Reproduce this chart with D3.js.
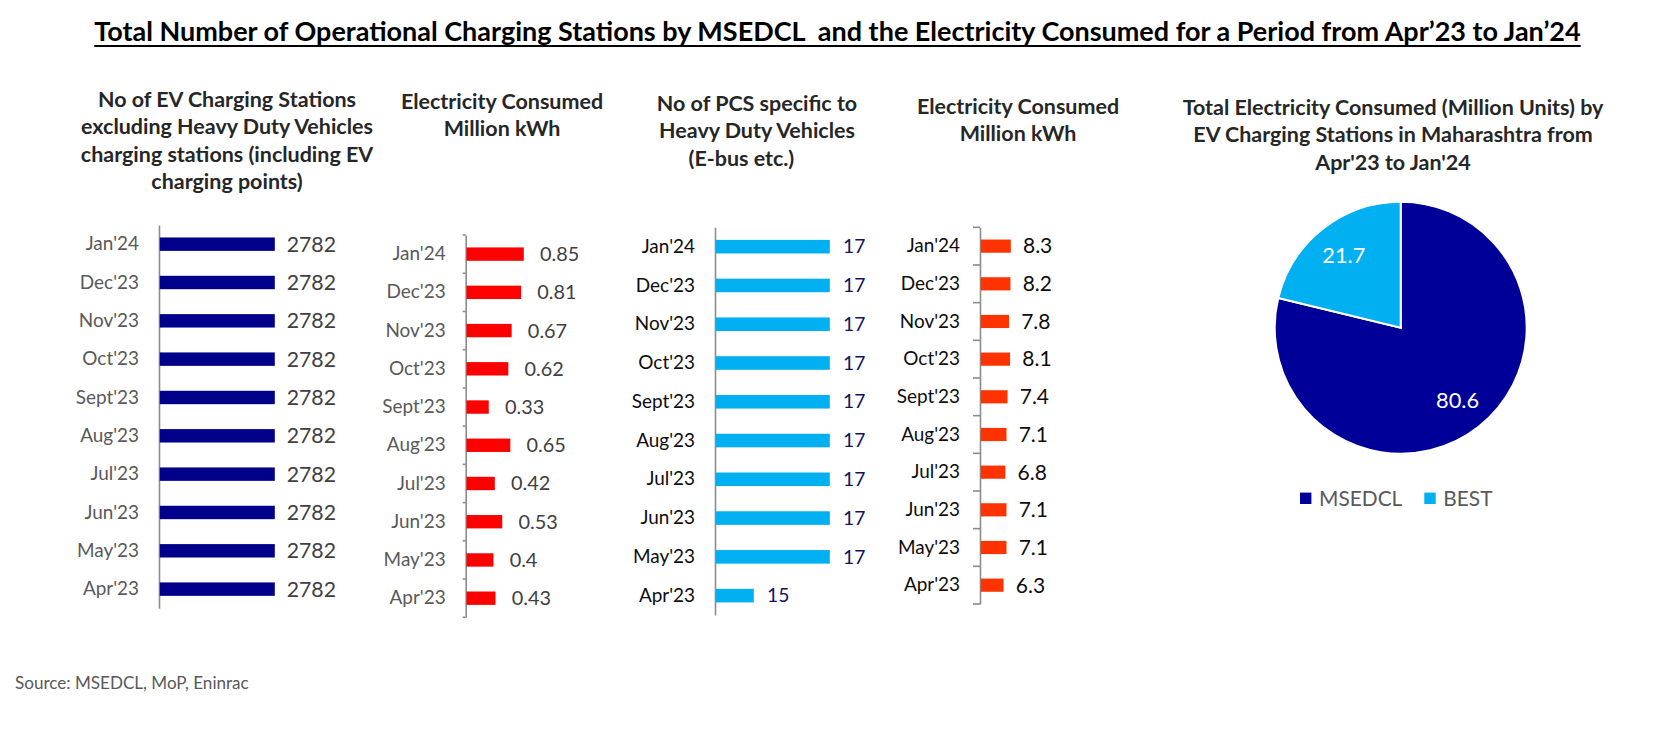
<!DOCTYPE html>
<html>
<head>
<meta charset="utf-8">
<script src="https://cdn.jsdelivr.net/npm/d3@7"></script>
<style>
  html, body { margin: 0; padding: 0; background: #ffffff; }
  svg { display: block; }
</style>
</head>
<body>
<script>
// ---------------- DATA ----------------
const months = ["Apr'23", "May'23", "Jun'23", "Jul'23", "Aug'23", "Sept'23", "Oct'23", "Nov'23", "Dec'23", "Jan'24"];
const evStations      = [2782, 2782, 2782, 2782, 2782, 2782, 2782, 2782, 2782, 2782];
const evConsumption   = [0.43, 0.4, 0.53, 0.42, 0.65, 0.33, 0.62, 0.67, 0.81, 0.85];
const hdvStations     = [15, 17, 17, 17, 17, 17, 17, 17, 17, 17];
const hdvConsumption  = [6.3, 7.1, 7.1, 6.8, 7.1, 7.4, 8.1, 7.8, 8.2, 8.3];
const pieCategories   = ["MSEDCL", "BEST"];
const pieValues       = [80.6, 21.7];

const titleText = "Total Number of Operational Charging Stations by MSEDCL  and the Electricity Consumed for a Period from Apr\u201923 to Jan\u201924";
const subtitle1 = ["No of EV Charging Stations", "excluding Heavy Duty Vehicles", "charging stations (including EV", "charging points)"];
const subtitle2 = ["Electricity Consumed", "Million kWh"];
const subtitle3 = ["No of PCS specific to", "Heavy Duty Vehicles", "(E-bus etc.)      "];
const subtitle4 = ["Electricity Consumed", "Million kWh"];
const subtitle5 = ["Total Electricity Consumed (Million Units) by", "EV Charging Stations in Maharashtra from", "Apr'23 to Jan'24"];
const sourceText = "Source: MSEDCL, MoP, Eninrac";

// ---------------- SETUP ----------------
const W = 1669, H = 730;
const FONT = "Lato, 'Open Sans', 'DejaVu Sans', sans-serif";
const svg = d3.select("body").append("svg").attr("width", W).attr("height", H)
  .style("font-family", FONT);

// font size that makes a string reach a target width (Calibri-like metrics)
function fit(text, weight, target) {
  const t = svg.append("text").attr("font-family", FONT).attr("font-weight", weight)
    .attr("font-size", 100).style("white-space", "pre").text(text);
  const w = t.node().getComputedTextLength();
  t.remove();
  return 100 * target / w;
}

const titleSize  = fit(titleText, 700, 1487);
const subSize    = fit(subtitle5[0], 700, 421);
const catSize    = fit("Jan'24", 400, 53.3);
const legendSize = fit("MSEDCL", 400, 83.4);
const pieLblSize = fit("80.6", 400, 43);
const sourceSize = fit(sourceText, 400, 234);

// ---------------- TITLE ----------------
const title = svg.append("text")
  .attr("x", 94.3).attr("y", 41)
  .attr("font-weight", 700).attr("font-size", titleSize)
  .attr("fill", "#000").style("white-space", "pre")
  .text(titleText);
const tw = title.node().getComputedTextLength();
svg.append("line").attr("x1", 94.3).attr("x2", 94.3 + tw)
  .attr("y1", 46).attr("y2", 46).attr("stroke", "#000").attr("stroke-width", 2);

// ---------------- SUBTITLES ----------------
function subtitle(lines, cx, cy) {
  const t = svg.append("text").attr("text-anchor", "middle")
    .attr("font-weight", 700).attr("font-size", subSize).attr("fill", "#262626")
    .style("white-space", "pre");
  t.selectAll("tspan").data(lines).join("tspan")
    .attr("x", cx).attr("y", (d, i) => cy + i * 27.5).attr("dy", "0.35em").text(d => d);
}
subtitle(subtitle1, 227, 99);
subtitle(subtitle2, 502, 101);
subtitle(subtitle3, 757, 103);
subtitle(subtitle4, 1018, 106);
subtitle(subtitle5, 1393, 107);

// ---------------- BAR CHARTS ----------------
function barChart(cfg) {
  const y = d3.scaleBand().domain(months.slice().reverse())
    .range([cfg.top, cfg.bottom]).paddingInner(0.65).paddingOuter(0.325);
  const x = d3.scaleLinear().domain(cfg.domain).range([0, cfg.width]);
  const g = svg.append("g").attr("transform", `translate(${cfg.axisX},0)`);

  const ag = g.append("g").call(d3.axisLeft(y).tickSize(0).tickSizeOuter(0).tickPadding(20));
  ag.select(".domain").attr("stroke", "#8c8c8c").attr("stroke-width", 1.6);
  ag.selectAll(".tick text").attr("font-family", FONT).attr("font-size", catSize)
    .attr("fill", cfg.catColor);

  if (cfg.tick) {
    const step = y.step();
    g.append("g").selectAll("line").data(d3.range(months.length + 1)).join("line")
      .attr("x1", -cfg.tick).attr("x2", 0)
      .attr("y1", i => cfg.top + i * step).attr("y2", i => cfg.top + i * step)
      .attr("stroke", "#8c8c8c").attr("stroke-width", 1.6);
  }

  const data = months.map((m, i) => ({ m, v: cfg.values[i] }));
  g.append("g").selectAll("rect").data(data).join("rect")
    .attr("x", 0.8).attr("y", d => y(d.m))
    .attr("width", d => x(d.v)).attr("height", y.bandwidth())
    .attr("fill", cfg.color);

  const vSize = fit(cfg.sample, 400, cfg.sampleWidth);
  g.append("g").selectAll("text").data(data).join("text")
    .attr("x", d => x(d.v) + cfg.gap)
    .attr("y", d => y(d.m) + y.bandwidth() / 2).attr("dy", "0.35em")
    .attr("font-size", vSize).attr("fill", cfg.valColor)
    .text(d => d.v);
}

barChart({ values: evStations, axisX: 159, top: 225, bottom: 608.3, domain: [0, 2782], width: 115,
  color: "#00008B", catColor: "#595959", valColor: "#404040", gap: 12.7, tick: 0,
  sample: "2782", sampleWidth: 49.3 });
barChart({ values: evConsumption, axisX: 465.7, top: 235, bottom: 617.3, domain: [0, 0.85], width: 57.3,
  color: "#FF0000", catColor: "#595959", valColor: "#404040", gap: 17, tick: 3,
  sample: "0.85", sampleWidth: 39.3 });
barChart({ values: hdvStations, axisX: 715, top: 227.3, bottom: 615, domain: [14, 17], width: 114,
  color: "#00B0F0", catColor: "#0d0d0d", valColor: "#12125e", gap: 14, tick: 0,
  sample: "17", sampleWidth: 22.3 });
barChart({ values: hdvConsumption, axisX: 980, top: 227.3, bottom: 604, domain: [0, 8.3], width: 30,
  color: "#FF3300", catColor: "#0d0d0d", valColor: "#0d0d0d", gap: 13, tick: 7,
  sample: "8.3", sampleWidth: 29.3 });

// ---------------- PIE ----------------
const pieColor = d3.scaleOrdinal().domain(pieCategories).range(["#000099", "#00B0F0"]);
const R = 126;
const pie = d3.pie().sort(null).value(d => d.v);
const pieData = pie(pieCategories.map((c, i) => ({ c, v: pieValues[i] })));
const arc = d3.arc().innerRadius(0).outerRadius(R);
const lblArc = d3.arc().innerRadius(R * 0.73).outerRadius(R * 0.73);
const pg = svg.append("g").attr("transform", "translate(1400.7,327.7)");
pg.selectAll("path").data(pieData).join("path")
  .attr("d", arc).attr("fill", d => pieColor(d.data.c))
  .attr("stroke", "#fff").attr("stroke-width", 2);
pg.selectAll("text").data(pieData).join("text")
  .attr("transform", d => `translate(${lblArc.centroid(d)})`)
  .attr("text-anchor", "middle").attr("dy", "0.35em")
  .attr("font-size", pieLblSize).attr("fill", "#fff")
  .text(d => d.data.v);

// legend
const legendX = [1300, 1424.3];
const lg = svg.append("g");
pieCategories.forEach((c, i) => {
  lg.append("rect").attr("x", legendX[i]).attr("y", 498.3 - 5.7).attr("width", 11.4).attr("height", 11.4)
    .attr("fill", pieColor(c));
  lg.append("text").attr("x", legendX[i] + 19).attr("y", 498.3).attr("dy", "0.35em")
    .attr("font-size", legendSize).attr("fill", "#595959").text(c);
});

// ---------------- SOURCE ----------------
svg.append("text").attr("x", 15).attr("y", 683).attr("dy", "0.35em")
  .attr("font-size", sourceSize).attr("fill", "#595959").text(sourceText);
</script>
</body>
</html>
